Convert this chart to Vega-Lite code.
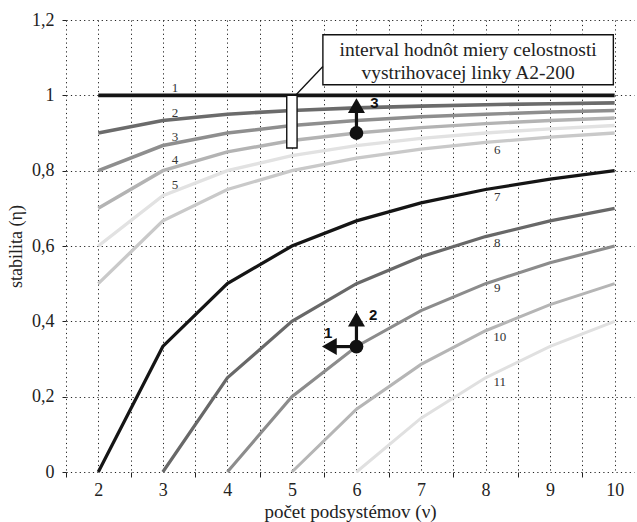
{
  "$schema": "https://vega.github.io/schema/vega-lite/v6.json",
  "width": 568,
  "height": 452,
  "autosize": {"type": "none"},
  "padding": {"left": 66, "top": 20, "right": 3, "bottom": 50},
  "background": "white",
  "config": {
    "view": {"stroke": null},
    "font": "Liberation Serif"
  },
  "datasets": {
    "curves": [
      {"c": 1, "x": 2, "y": 1}, {"c": 1, "x": 3, "y": 1}, {"c": 1, "x": 4, "y": 1}, {"c": 1, "x": 5, "y": 1}, {"c": 1, "x": 6, "y": 1}, {"c": 1, "x": 7, "y": 1}, {"c": 1, "x": 8, "y": 1}, {"c": 1, "x": 9, "y": 1}, {"c": 1, "x": 10, "y": 1},
      {"c": 2, "x": 2, "y": 0.9}, {"c": 2, "x": 3, "y": 0.9333}, {"c": 2, "x": 4, "y": 0.95}, {"c": 2, "x": 5, "y": 0.96}, {"c": 2, "x": 6, "y": 0.9667}, {"c": 2, "x": 7, "y": 0.9714}, {"c": 2, "x": 8, "y": 0.975}, {"c": 2, "x": 9, "y": 0.9778}, {"c": 2, "x": 10, "y": 0.98},
      {"c": 3, "x": 2, "y": 0.8}, {"c": 3, "x": 3, "y": 0.8667}, {"c": 3, "x": 4, "y": 0.9}, {"c": 3, "x": 5, "y": 0.92}, {"c": 3, "x": 6, "y": 0.9333}, {"c": 3, "x": 7, "y": 0.9429}, {"c": 3, "x": 8, "y": 0.95}, {"c": 3, "x": 9, "y": 0.9556}, {"c": 3, "x": 10, "y": 0.96},
      {"c": 4, "x": 2, "y": 0.7}, {"c": 4, "x": 3, "y": 0.8}, {"c": 4, "x": 4, "y": 0.85}, {"c": 4, "x": 5, "y": 0.88}, {"c": 4, "x": 6, "y": 0.9}, {"c": 4, "x": 7, "y": 0.9143}, {"c": 4, "x": 8, "y": 0.925}, {"c": 4, "x": 9, "y": 0.9333}, {"c": 4, "x": 10, "y": 0.94},
      {"c": 5, "x": 2, "y": 0.6}, {"c": 5, "x": 3, "y": 0.7333}, {"c": 5, "x": 4, "y": 0.8}, {"c": 5, "x": 5, "y": 0.84}, {"c": 5, "x": 6, "y": 0.8667}, {"c": 5, "x": 7, "y": 0.8857}, {"c": 5, "x": 8, "y": 0.9}, {"c": 5, "x": 9, "y": 0.9111}, {"c": 5, "x": 10, "y": 0.92},
      {"c": 6, "x": 2, "y": 0.5}, {"c": 6, "x": 3, "y": 0.6667}, {"c": 6, "x": 4, "y": 0.75}, {"c": 6, "x": 5, "y": 0.8}, {"c": 6, "x": 6, "y": 0.8333}, {"c": 6, "x": 7, "y": 0.8571}, {"c": 6, "x": 8, "y": 0.875}, {"c": 6, "x": 9, "y": 0.8889}, {"c": 6, "x": 10, "y": 0.9},
      {"c": 7, "x": 2, "y": 0}, {"c": 7, "x": 3, "y": 0.3333}, {"c": 7, "x": 4, "y": 0.5}, {"c": 7, "x": 5, "y": 0.6}, {"c": 7, "x": 6, "y": 0.6667}, {"c": 7, "x": 7, "y": 0.7143}, {"c": 7, "x": 8, "y": 0.75}, {"c": 7, "x": 9, "y": 0.7778}, {"c": 7, "x": 10, "y": 0.8},
      {"c": 8, "x": 3, "y": 0}, {"c": 8, "x": 4, "y": 0.25}, {"c": 8, "x": 5, "y": 0.4}, {"c": 8, "x": 6, "y": 0.5}, {"c": 8, "x": 7, "y": 0.5714}, {"c": 8, "x": 8, "y": 0.625}, {"c": 8, "x": 9, "y": 0.6667}, {"c": 8, "x": 10, "y": 0.7},
      {"c": 9, "x": 4, "y": 0}, {"c": 9, "x": 5, "y": 0.2}, {"c": 9, "x": 6, "y": 0.3333}, {"c": 9, "x": 7, "y": 0.4286}, {"c": 9, "x": 8, "y": 0.5}, {"c": 9, "x": 9, "y": 0.5556}, {"c": 9, "x": 10, "y": 0.6},
      {"c": 10, "x": 5, "y": 0}, {"c": 10, "x": 6, "y": 0.1667}, {"c": 10, "x": 7, "y": 0.2857}, {"c": 10, "x": 8, "y": 0.375}, {"c": 10, "x": 9, "y": 0.4444}, {"c": 10, "x": 10, "y": 0.5},
      {"c": 11, "x": 6, "y": 0}, {"c": 11, "x": 7, "y": 0.1429}, {"c": 11, "x": 8, "y": 0.25}, {"c": 11, "x": 9, "y": 0.3333}, {"c": 11, "x": 10, "y": 0.4}
    ],
    "curveLabels": [
      {"t": "1", "x": 3.19, "y": 1.02},
      {"t": "2", "x": 3.19, "y": 0.953},
      {"t": "3", "x": 3.19, "y": 0.889},
      {"t": "4", "x": 3.19, "y": 0.829},
      {"t": "5", "x": 3.19, "y": 0.762},
      {"t": "6", "x": 8.18, "y": 0.855},
      {"t": "7", "x": 8.18, "y": 0.73},
      {"t": "8", "x": 8.18, "y": 0.608},
      {"t": "9", "x": 8.18, "y": 0.489},
      {"t": "10", "x": 8.22, "y": 0.359},
      {"t": "11", "x": 8.22, "y": 0.239}
    ]
  },
  "encoding": {
    "x": {
      "field": "x", "type": "quantitative",
      "scale": {"domain": [1.5, 10.3], "nice": false, "zero": false},
      "axis": {
        "title": "počet podsystémov (ν)",
        "values": [1.5, 2, 2.5, 3, 3.5, 4, 4.5, 5, 5.5, 6, 6.5, 7, 7.5, 8, 8.5, 9, 9.5, 10],
        "labelExpr": "datum.value % 1 === 0 ? format(datum.value, 'd') : ''",
        "domain": false,
        "grid": true,
        "gridColor": "#222",
        "gridDash": [1.2, 3.2],
        "gridWidth": 1,
        "ticks": true,
        "tickSize": 5,
        "tickColor": "#222",
        "tickOpacity": {"condition": {"test": "datum.value % 1 === 0", "value": 0}, "value": 1},
        "labelFont": "Liberation Serif",
        "labelFontSize": 18,
        "labelColor": "#222",
        "labelPadding": 4,
        "labelFlush": false,
        "labelOverlap": false,
        "titleFont": "Liberation Serif",
        "titleFontSize": 19,
        "titleFontWeight": "normal",
        "titleColor": "#222",
        "titleBaseline": "alphabetic",
        "titleY": 45
      }
    },
    "y": {
      "field": "y", "type": "quantitative",
      "scale": {"domain": [0, 1.2], "nice": false, "zero": false},
      "axis": {
        "title": "stabilita (η)",
        "values": [0, 0.2, 0.4, 0.6, 0.8, 1, 1.2],
        "labelExpr": "replace(format(datum.value, '.1~f'), '.', ',')",
        "domain": false,
        "grid": true,
        "gridColor": "#222",
        "gridDash": [1.2, 3.2],
        "gridWidth": 1,
        "tickSize": 4,
        "tickColor": "#222",
        "labelFont": "Liberation Serif",
        "labelFontSize": 18,
        "labelColor": "#222",
        "labelPadding": 8,
        "labelFlush": false,
        "labelOverlap": false,
        "titleFont": "Liberation Serif",
        "titleFontSize": 18,
        "titleFontWeight": "normal",
        "titleColor": "#222",
        "titlePadding": 6
      }
    }
  },
  "layer": [
    {
      "data": {"name": "curves"},
      "mark": {"type": "line", "strokeCap": "butt", "strokeJoin": "miter"},
      "encoding": {
        "color": {
          "field": "c", "type": "ordinal", "legend": null,
          "scale": {"domain": [1, 2, 3, 4, 5, 6, 7, 8, 9, 10, 11],
            "range": ["#151515", "#6b6b6b", "#8e8e8e", "#b3b3b3", "#e2e2e2", "#c9c9c9", "#151515", "#686868", "#8c8c8c", "#b5b5b5", "#e0e0e0"]}
        },
        "strokeWidth": {
          "field": "c", "type": "ordinal", "legend": null,
          "scale": {"domain": [1, 2, 3, 4, 5, 6, 7, 8, 9, 10, 11],
            "range": [3.6, 3, 3, 3, 3, 3, 2.2, 2.2, 2.2, 2.2, 2.2]}
        }
      }
    },
    {
      "data": {"name": "curveLabels"},
      "mark": {"type": "text", "font": "Liberation Serif", "fontSize": 13, "fill": "#333", "align": "center", "baseline": "middle"},
      "encoding": {
        "text": {"field": "t"}
      }
    },
    {
      "data": {"values": [{"x": 5.48, "x2": 9.98, "y": 1.028, "y2": 1.161}, {"x": 4.92, "x2": 5.08, "y": 0.86, "y2": 1.0}]},
      "mark": {"type": "rect", "fill": "white", "stroke": "#111", "strokeWidth": 1.4},
      "encoding": {
        "x2": {"field": "x2"},
        "y2": {"field": "y2"}
      }
    },
    {
      "data": {"values": [{"x": 5.48, "x2": 5.05, "y": 1.0765, "y2": 0.999}]},
      "mark": {"type": "rule", "stroke": "#111", "strokeWidth": 1.3},
      "encoding": {
        "x2": {"field": "x2"},
        "y2": {"field": "y2"}
      }
    },
    {
      "data": {"values": [
        {"t": "interval hodnôt miery celostnosti", "x": 7.73, "y": 1.12},
        {"t": "vystrihovacej linky A2-200", "x": 7.73, "y": 1.058}
      ]},
      "mark": {"type": "text", "font": "Liberation Serif", "fontSize": 19.5, "fill": "#222", "align": "center", "baseline": "middle"},
      "encoding": {
        "text": {"field": "t"}
      }
    },
    {
      "data": {"values": [
        {"x": 6, "x2": 6, "y": 0.9, "y2": 0.958},
        {"x": 6, "x2": 6, "y": 0.333, "y2": 0.39},
        {"x": 6, "x2": 5.6, "y": 0.333, "y2": 0.333}
      ]},
      "mark": {"type": "rule", "stroke": "#111", "strokeWidth": 3.2},
      "encoding": {
        "x2": {"field": "x2"},
        "y2": {"field": "y2"}
      }
    },
    {
      "data": {"values": [
        {"x": 6, "y": 0.973, "s": "triangle-up"},
        {"x": 6, "y": 0.406, "s": "triangle-up"},
        {"x": 5.58, "y": 0.333, "s": "triangle-left"}
      ]},
      "mark": {"type": "point", "filled": true, "color": "#111", "opacity": 1, "size": 290},
      "encoding": {
        "shape": {"field": "s", "type": "nominal", "legend": null, "scale": {"domain": ["triangle-up", "triangle-left"], "range": ["triangle-up", "triangle-left"]}}
      }
    },
    {
      "data": {"values": [{"x": 6, "y": 0.9}, {"x": 6, "y": 0.333}]},
      "mark": {"type": "circle", "color": "#111", "opacity": 1, "size": 190},
      "encoding": {}
    },
    {
      "data": {"values": [
        {"t": "3", "x": 6.28, "y": 0.98},
        {"t": "2", "x": 6.26, "y": 0.417},
        {"t": "1", "x": 5.56, "y": 0.37}
      ]},
      "mark": {"type": "text", "font": "Liberation Sans", "fontWeight": "bold", "fontSize": 15, "fill": "#111", "align": "center", "baseline": "middle"},
      "encoding": {
        "text": {"field": "t"}
      }
    }
  ]
}
